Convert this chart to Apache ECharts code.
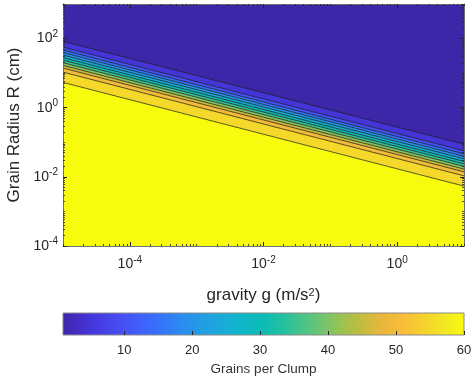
<!DOCTYPE html>
<html>
<head>
<meta charset="utf-8">
<script src="https://cdn.jsdelivr.net/npm/echarts@6/dist/echarts.min.js"></script>
<style>
  html, body { margin: 0; padding: 0; background: #fff; }
  #chart { width: 472px; height: 381px; }
</style>
</head>
<body>
<div id="chart"></div>
<script>
// contour levels (grains per clump)
const levels = [5, 10, 15, 20, 25, 30, 35, 40, 45, 50, 55, 60];
// value of each filled band, top band first
const bandValues = [1, 5, 10, 15, 20, 25, 30, 35, 40, 45, 50, 55, 60];
// plot ranges
const gRange = [1e-5, 10];
const rRange = [1e-4, 1e3];
// grain radius (cm) where each contour meets the left (g=1e-5) and right (g=10) edge
const rAtLeft = [83.6, 56.8, 46.5, 39.3, 33.3, 28.1, 23.8, 20.1, 16.8, 14.0, 10.7, 5.4];
const rAtRight = [0.088, 0.0568, 0.0465, 0.0393, 0.0333, 0.0281, 0.0238, 0.0201, 0.0168, 0.014, 0.0107, 0.0054];
// ticks
const xLabelTicks = [1e-4, 1e-2, 1];
const yLabelTicks = [1e-4, 1e-2, 1, 1e2];
const cbarTicks = [10, 20, 30, 40, 50, 60];
const cbarRange = [1, 60];

// parula, evenly spaced from 0 to 1
const parula = ['#3e26a8', '#4430cf', '#463fe6', '#4650f5', '#4062fb', '#3476fa', '#2b8cf0',
                '#229ee4', '#1aacd8', '#10b6c8', '#0bbcb5', '#25c0a0', '#4ac488', '#75c56c',
                '#a0c24e', '#c9bb3e', '#eab73c', '#fbbd3a', '#f5d22d', '#f3e722', '#f9fb0e'];

const FONT = 'Liberation Sans, Arial, Helvetica, sans-serif';
const TXT = '#262626';
const TICK = '#262626';

// log minor ticks k*10^d that are not majors
function minorTicks(lo, hi, majors) {
    const out = [];
    for (let d = Math.floor(Math.log10(lo)); d <= Math.ceil(Math.log10(hi)); d++) {
        for (let k = 1; k < 10; k++) {
            const v = k * Math.pow(10, d);
            if (v < lo * 0.999 || v > hi * 1.001) continue;
            if (majors.some(m => Math.abs(m - v) / m < 1e-6)) continue;
            out.push(v);
        }
    }
    return out;
}

function powLabel(v) {
    const e = Math.round(Math.log10(v));
    return '{b|10}{s|' + e + '}';
}

const labelRich = {
    b: { fontSize: 14, fontFamily: FONT, color: TXT, lineHeight: 19 },
    s: { fontSize: 10, fontFamily: FONT, color: TXT, lineHeight: 10, verticalAlign: 'top' }
};

// major axis (line, ticks, labels) plus an overlaid axis carrying the minor ticks
function logAxis(range, position, majors, minors, extra) {
    const list = [];
    list.push(Object.assign({
        type: 'log', logBase: 10, gridIndex: 0, position: position, z: 10,
        min: range[0], max: range[1],
        axisLine: { show: true, onZero: false, lineStyle: { color: '#6f6f6f', width: 1 } },
        axisTick: { show: true, inside: true, length: 4, customValues: majors, lineStyle: { color: TICK, width: 1 } },
        axisLabel: { show: false },
        splitLine: { show: false },
        minorTick: { show: false }
    }, extra || {}));
    list.push({
        type: 'log', logBase: 10, gridIndex: 0, position: position, z: 10,
        min: range[0], max: range[1],
        axisLine: { show: false },
        axisTick: { show: true, inside: true, length: 2, customValues: minors, lineStyle: { color: TICK, width: 0.8 } },
        axisLabel: { show: false },
        splitLine: { show: false }
    });
    return list;
}

const xMinor = minorTicks(gRange[0], gRange[1], xLabelTicks);
const yMinor = minorTicks(rRange[0], rRange[1], yLabelTicks);

const xAxes = [].concat(
    logAxis(gRange, 'bottom', xLabelTicks, xMinor, {
        axisLabel: { show: true, customValues: xLabelTicks, formatter: powLabel, rich: labelRich, margin: 9 },
        name: 'gravity g (m/s{s|2})', nameLocation: 'middle', nameGap: 41,
        nameTextStyle: {
            fontSize: 17, fontFamily: FONT, color: TXT,
            rich: { s: { fontSize: 11, fontFamily: FONT, color: TXT, verticalAlign: 'top', lineHeight: 11 } }
        }
    }),
    logAxis(gRange, 'top', xLabelTicks, xMinor),
    [{
        type: 'value', gridIndex: 1, position: 'bottom', min: cbarRange[0], max: cbarRange[1], z: 10,
        axisLine: { show: false },
        axisTick: { show: true, inside: true, length: 4, customValues: cbarTicks, lineStyle: { color: TICK } },
        axisLabel: { customValues: cbarTicks, fontSize: 13, fontFamily: FONT, color: TXT, margin: 9 },
        splitLine: { show: false },
        name: 'Grains per Clump', nameLocation: 'middle', nameGap: 27,
        nameTextStyle: { fontSize: 13.5, fontFamily: FONT, color: '#333' }
    }]
);

const yAxes = [].concat(
    logAxis(rRange, 'left', yLabelTicks, yMinor, {
        axisLabel: { show: true, customValues: yLabelTicks, formatter: powLabel, rich: labelRich, margin: 5 },
        name: 'Grain Radius R (cm)', nameLocation: 'middle', nameGap: 35,
        nameTextStyle: { fontSize: 17, fontFamily: FONT, color: TXT }
    }),
    logAxis(rRange, 'right', yLabelTicks, yMinor),
    [{ type: 'value', gridIndex: 1, min: 0, max: 1, show: false }]
);

function renderBand(params, api) {
    const i = api.value(0);
    const last = levels.length;
    const upL = i === 0 ? rRange[1] : rAtLeft[i - 1];
    const upR = i === 0 ? rRange[1] : rAtRight[i - 1];
    const loL = i === last ? rRange[0] : rAtLeft[i];
    const loR = i === last ? rRange[0] : rAtRight[i];
    const pts = [[gRange[0], upL], [gRange[1], upR], [gRange[1], loR], [gRange[0], loL]]
        .map(p => api.coord(p));
    const color = api.visual('color');
    const children = [{
        type: 'polygon', shape: { points: pts },
        style: { fill: color, stroke: color, lineWidth: 0.6 }
    }];
    if (i < last) {
        children.push({
            type: 'line', z2: 10,
            shape: { x1: pts[3][0], y1: pts[3][1], x2: pts[2][0], y2: pts[2][1] },
            style: { stroke: '#141414', lineWidth: 0.7 }
        });
    }
    return { type: 'group', children: children };
}

function renderColorbar(params, api) {
    const p0 = api.coord([api.value(0), 1]);
    const p1 = api.coord([api.value(1), 0]);
    return {
        type: 'rect',
        shape: { x: p0[0], y: p0[1], width: p1[0] - p0[0], height: p1[1] - p0[1] },
        style: {
            fill: new echarts.graphic.LinearGradient(0, 0, 1, 0,
                parula.map((c, k) => ({ offset: k / (parula.length - 1), color: c }))),
            stroke: '#8a8a8a', lineWidth: 1
        }
    };
}

const chart = echarts.init(document.getElementById('chart'), null, { renderer: 'canvas' });
chart.setOption({
    animation: false,
    backgroundColor: '#fff',
    grid: [
        { left: 63, top: 4, width: 401, height: 242, containLabel: false, outerBoundsMode: 'none' },
        { left: 63, top: 313, width: 401, height: 22, containLabel: false, outerBoundsMode: 'none' }
    ],
    xAxis: xAxes,
    yAxis: yAxes,
    visualMap: {
        type: 'continuous', show: false, min: cbarRange[0], max: cbarRange[1],
        dimension: 1, seriesIndex: 0, inRange: { color: parula }
    },
    series: [
        {
            type: 'custom', xAxisIndex: 0, yAxisIndex: 0, clip: true,
            renderItem: renderBand,
            data: bandValues.map((v, i) => [i, v]),
            encode: { x: [], y: [] }
        },
        {
            type: 'custom', xAxisIndex: 4, yAxisIndex: 4,
            renderItem: renderColorbar,
            data: [[cbarRange[0], cbarRange[1]]],
            z: 1
        }
    ]
});
</script>
</body>
</html>
